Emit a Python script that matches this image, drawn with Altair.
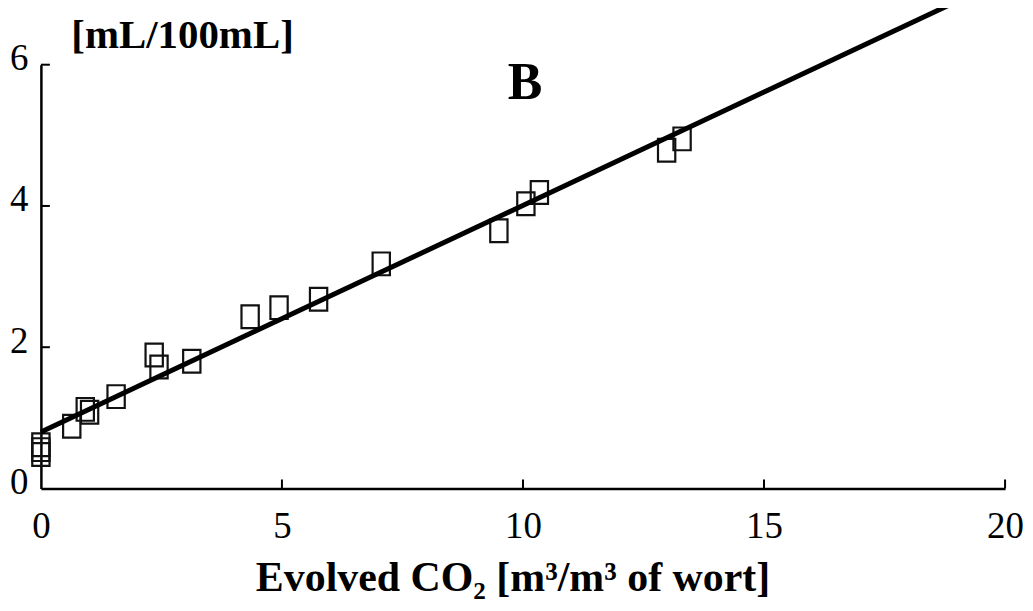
import altair as alt
import pandas as pd

# Data
co2 = [0, 0, 0, 0.64, 0.92, 1.01, 1.56, 2.35, 2.45, 3.13, 4.34, 4.94, 5.76, 7.06, 9.50, 10.06, 10.34, 12.98, 13.30]
vol = [0.62, 0.55, 0.48, 0.88, 1.12, 1.08, 1.30, 1.89, 1.72, 1.80, 2.43, 2.56, 2.68, 3.18, 3.65, 4.03, 4.19, 4.79, 4.95]
fit_x = [0, 19.2]
fit_y = [0.80, 6.96]
x_tick_values = [0, 5, 10, 15, 20]
y_tick_values = [0, 2, 4, 6]
panel_label = ["B"]
panel_x = [10.04]
panel_y = [5.52]

FONT = "Liberation Serif"

pts = pd.DataFrame({"x": co2, "y": vol})
fit = pd.DataFrame({"x": fit_x, "y": fit_y})
xt = pd.DataFrame({"x": x_tick_values[1:]})
yt = pd.DataFrame({"y": y_tick_values[1:]})
lab = pd.DataFrame({"x": panel_x, "y": panel_y, "t": panel_label})

W, H = 967, 425

xscale = alt.Scale(domain=[0, 20], nice=False, zero=False)
yscale = alt.Scale(domain=[0, 6], nice=False, zero=False)

x_axis = alt.Axis(
    values=x_tick_values, format="d", grid=False, ticks=False, tickSize=0,
    labelFont=FONT, labelFontSize=37, labelColor="black", labelPadding=20,
    labelBaseline="top", labelFlush=False,
    domainColor="black", domainWidth=2.5,
    title="Evolved CO\u2082 [m\u00b3/m\u00b3 of wort]",
    titleFont=FONT, titleFontSize=42, titleFontWeight="bold", titleColor="black",
    titleX=473, titleY=102, titleAlign="center", titleBaseline="alphabetic",
)
y_axis = alt.Axis(
    values=y_tick_values, format="d", grid=False, ticks=False, tickSize=0,
    labelFont=FONT, labelFontSize=37, labelColor="black", labelPadding=13,
    labelBaseline="middle", labelOffset=-6, labelFlush=False,
    domainColor="black", domainWidth=2.5,
    title="[mL/100mL]",
    titleFont=FONT, titleFontSize=41, titleFontWeight="bold", titleColor="black",
    titleAngle=0, titleX=30, titleY=-17, titleAlign="left", titleBaseline="alphabetic",
)

points = alt.Chart(pts).mark_point(
    shape="M-0.76,-1H0.76V1H-0.76Z", filled=False, stroke="#111", strokeWidth=2.2,
    size=520, opacity=1,
).encode(
    x=alt.X("x:Q", scale=xscale, axis=x_axis),
    y=alt.Y("y:Q", scale=yscale, axis=y_axis),
)

line = alt.Chart(fit).mark_line(color="black", strokeWidth=5, clip=False).encode(
    x=alt.X("x:Q", scale=xscale),
    y=alt.Y("y:Q", scale=yscale),
)

xticks = alt.Chart(xt).mark_rule(color="black", strokeWidth=2).encode(
    x=alt.X("x:Q", scale=xscale),
    y=alt.value(H), y2=alt.value(H - 9),
)
yticks = alt.Chart(yt).mark_rule(color="black", strokeWidth=2).encode(
    y=alt.Y("y:Q", scale=yscale),
    x=alt.value(0), x2=alt.value(9),
)

label = alt.Chart(lab).mark_text(
    font=FONT, fontSize=52, fontWeight="bold", color="black",
    align="center", baseline="alphabetic",
).encode(
    x=alt.X("x:Q", scale=xscale),
    y=alt.Y("y:Q", scale=yscale),
    text="t:N",
)

chart = alt.layer(points, line, xticks, yticks, label).properties(
    width=W, height=H,
    autosize=alt.AutoSizeParams(type="none"),
    padding={"left": 33, "top": 56, "right": 20, "bottom": 110},
    background="white",
).configure_view(stroke=None)

chart.save("out.html", embed_options={"renderer": "svg", "actions": False})
